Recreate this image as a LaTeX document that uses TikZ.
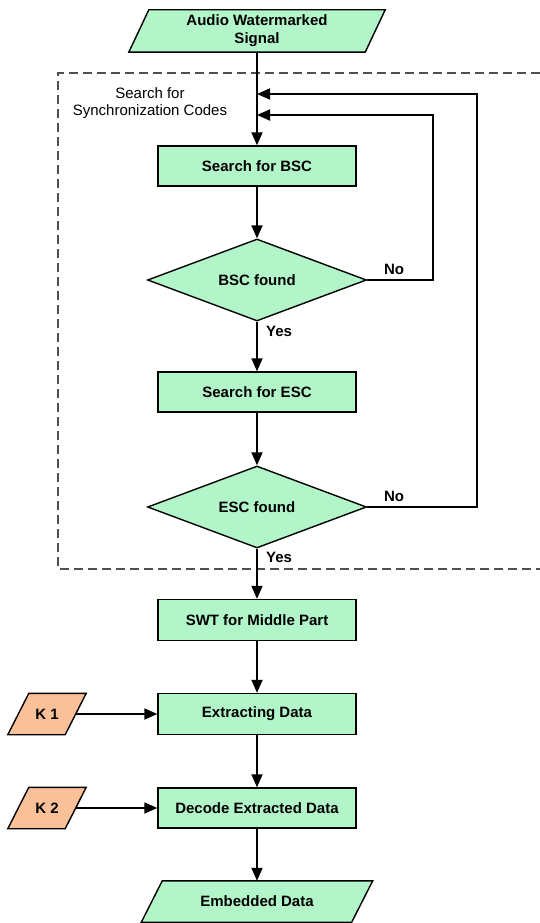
\documentclass[tikz,border=0pt]{standalone}
\usepackage{fontspec}
\setmainfont{Liberation Sans}
\usetikzlibrary{shapes.geometric,arrows.meta,calc,backgrounds}
\definecolor{boxgreen}{RGB}{178,245,200}
\definecolor{keyorange}{RGB}{250,192,152}
\definecolor{dashgray}{RGB}{80,80,80}
\begin{document}
\begin{tikzpicture}[x=1pt,y=-1pt,
  bfont/.style={font=\fontsize{15pt}{18pt}\selectfont\bfseries},
  box/.style={rectangle, draw=black, line width=1.4pt, fill=boxgreen, minimum width=198pt, minimum height=40pt, inner sep=0pt, bfont},
  decision/.style={diamond, draw=black, line width=1.4pt, fill=boxgreen, minimum width=219pt, minimum height=82pt, inner sep=0pt, aspect=2.67, bfont},
  iobox/.style={rectangle, inner sep=0pt, align=center, bfont},
  pgram/.style={draw=black, line width=1.4pt, fill=boxgreen},
  kgram/.style={draw=black, line width=1.4pt, fill=keyorange},
  line/.style={line width=1.8pt},
  arr/.style={line, -{Triangle[length=13pt,width=11pt]}},
  lbl/.style={bfont},
  frame/.style={draw=dashgray, line width=1.1pt, dash pattern=on 9pt off 5pt}
]
\useasboundingbox (0,0) rectangle (540,923);

% dashed frame (right side beyond the page)
\draw[frame] (540,73) -- (58,73) -- (58,569) -- (540,569);
\node[font=\fontsize{15pt}{17pt}\selectfont, align=center] (sync) at (150,103) {Search for\\Synchronization Codes};

% input signal
\node[iobox, minimum width=236pt, minimum height=42pt] (sig) at (257,31) {Audio Watermarked\\Signal};
\begin{scope}[on background layer]
\draw[pgram] ($(sig.north west)+(10pt,0)$) -- ($(sig.north east)+(10pt,0)$) -- ($(sig.south east)+(-10pt,0)$) -- ($(sig.south west)+(-10pt,0)$) -- cycle;
\end{scope}

\node[box] (bsc) at (257,166) {Search for BSC};
\node[decision] (bscd) at (257,280) {BSC found};
\node[box] (esc) at (257,392) {Search for ESC};
\node[decision] (escd) at (257,507) {ESC found};
\node[box, minimum height=41pt] (swt) at (257,620) {SWT for Middle Part};
\node[box, minimum height=41pt] (ext) at (257,714) {Extracting Data};
\node[box] (dec) at (257,808) {Decode Extracted Data};

\node[iobox, minimum width=210pt, minimum height=41pt] (emb) at (257,901.5) {Embedded Data};
\node[iobox, minimum width=57pt, minimum height=41pt] (k1) at (47,714) {K 1};
\node[iobox, minimum width=57pt, minimum height=41pt] (k2) at (47,808) {K 2};
\begin{scope}[on background layer]
\draw[pgram] ($(emb.north west)+(10.5pt,0)$) -- ($(emb.north east)+(10.5pt,0)$) -- ($(emb.south east)+(-10.5pt,0)$) -- ($(emb.south west)+(-10.5pt,0)$) -- cycle;
\draw[kgram] ($(k1.north west)+(10.5pt,0)$) -- ($(k1.north east)+(10.5pt,0)$) -- ($(k1.south east)+(-10.5pt,0)$) -- ($(k1.south west)+(-10.5pt,0)$) -- cycle;
\draw[kgram] ($(k2.north west)+(10.5pt,0)$) -- ($(k2.north east)+(10.5pt,0)$) -- ($(k2.south east)+(-10.5pt,0)$) -- ($(k2.south west)+(-10.5pt,0)$) -- cycle;
\end{scope}

% junction points on the main line
\coordinate (j2) at (257,94);
\coordinate (j1) at (257,115);
\coordinate (r2) at (477,94);
\coordinate (r1) at (433,115);

\draw[arr] (sig.south) -- (bsc.north);
\draw[arr] (bsc.south) -- (bscd.north);
\draw[arr] (bscd.south) -- (esc.north);
\draw[arr] (esc.south) -- (escd.north);
\draw[arr] (escd.south) -- (swt.north);
\draw[arr] (swt.south) -- (ext.north);
\draw[arr] (ext.south) -- (dec.north);
\draw[arr] (dec.south) -- (emb.north);
\draw[arr] (bscd.east) -| (r1) -- (j1);
\draw[arr] (escd.east) -| (r2) -- (j2);
\draw[arr] (k1.east) -- (ext.west);
\draw[arr] (k2.east) -- (dec.west);

\node[lbl] (no1) at (394,269) {No};
\node[lbl] (yes1) at (279,331) {Yes};
\node[lbl] (no2) at (394,496) {No};
\node[lbl] (yes2) at (279,557) {Yes};
\end{tikzpicture}
\end{document}
